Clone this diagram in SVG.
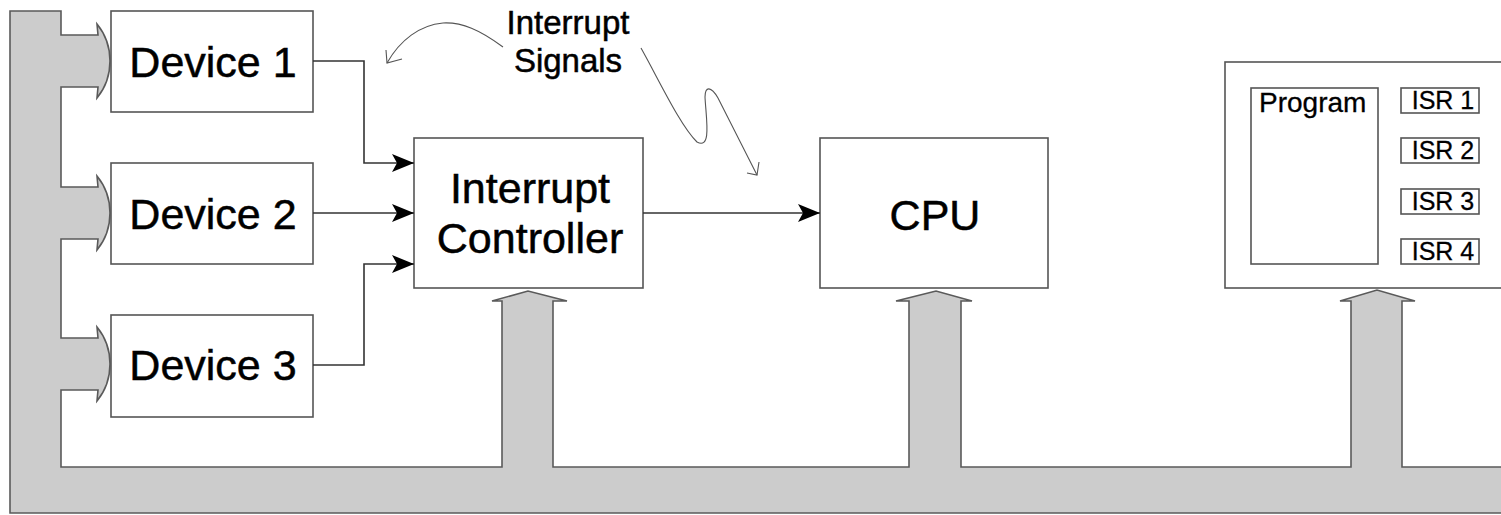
<svg xmlns="http://www.w3.org/2000/svg" width="1501" height="515" viewBox="0 0 1501 515">
  <style>
    .box { fill: #ffffff; stroke: #555555; stroke-width: 1.6; }
    .bus { fill: #cccccc; stroke: #5a5a5a; stroke-width: 1.6; stroke-linejoin: miter; }
    .wire { fill: none; stroke: #333333; stroke-width: 1.6; }
    .note { fill: none; stroke: #555555; stroke-width: 1.1; }
    text { font-family: "Liberation Sans", Arial, sans-serif; fill: #000000; stroke: #000000; stroke-width: 0.5; }
    .big { font-size: 43px; }
    .mid { font-size: 33px; }
    .small { font-size: 28px; stroke-width: 0.3; }
    .tiny { font-size: 25px; stroke-width: 0.3; }
  </style>
  <defs>
    <marker id="head" markerUnits="userSpaceOnUse" markerWidth="24" markerHeight="20" refX="22" refY="9" orient="auto">
      <path d="M0,0 L22,9 L0,18 L5,9 Z" fill="#000000"/>
    </marker>
  </defs>

  <!-- system bus with branch arrows to each block -->
  <g id="bus">
    <path class="bus" d="M1503,513 H10 V11 H61 V35 H98 L97,24 C106,35 110,48 110,61 C110,74 106,87 97,98 L98,87 H61
      V187 H98 L97,176 C106,187 110,200 110,213 C110,226 106,239 97,250 L98,239 H61
      V338 H98 L97,327 C106,338 110,351 110,364 C110,377 106,390 97,401 L98,390 H61
      V467 H502 V301 H492 L528,291 L567,301 H553 V467
      H909 V301 H896 L936,291 L972,301 H961 V467
      H1351 V301 H1340 L1377,290 L1415,301 H1402 V467 H1503"/>
  </g>

  <g id="device1">
    <rect class="box" x="111" y="11" width="202" height="101"/>
    <text class="big" x="213" y="77" text-anchor="middle">Device 1</text>
  </g>
  <g id="device2">
    <rect class="box" x="111" y="163" width="202" height="101"/>
    <text class="big" x="213" y="229" text-anchor="middle">Device 2</text>
  </g>
  <g id="device3">
    <rect class="box" x="111" y="315" width="202" height="102"/>
    <text class="big" x="213" y="380" text-anchor="middle">Device 3</text>
  </g>

  <g id="interrupt-controller">
    <rect class="box" x="414" y="138" width="229" height="150"/>
    <text class="big" x="530" y="203" text-anchor="middle" font-size="44">Interrupt</text>
    <text class="big" x="530" y="253" text-anchor="middle" font-size="44">Controller</text>
  </g>

  <g id="cpu">
    <rect class="box" x="820" y="138" width="228" height="150"/>
    <text class="big" x="935" y="230" text-anchor="middle" font-size="44">CPU</text>
  </g>

  <g id="memory">
    <rect class="box" x="1225" y="62" width="290" height="226"/>
    <rect class="box" x="1251" y="88" width="127" height="176"/>
    <text class="small" x="1259" y="112">Program</text>
    <rect class="box" x="1401" y="88" width="78" height="25"/>
    <text class="tiny" x="1443" y="109" text-anchor="middle">ISR 1</text>
    <rect class="box" x="1401" y="138" width="78" height="25"/>
    <text class="tiny" x="1443" y="159" text-anchor="middle">ISR 2</text>
    <rect class="box" x="1401" y="189" width="78" height="25"/>
    <text class="tiny" x="1443" y="210" text-anchor="middle">ISR 3</text>
    <rect class="box" x="1401" y="239" width="78" height="25"/>
    <text class="tiny" x="1443" y="260" text-anchor="middle">ISR 4</text>
  </g>

  <g id="signals-label">
    <text class="mid" x="568" y="34" text-anchor="middle">Interrupt</text>
    <text class="mid" x="568" y="72" text-anchor="middle">Signals</text>
    <path class="note" d="M503,47 C480,30 462,22 443,23 C420,25 400,40 387,63"/>
    <path class="note" d="M386,50 L387,63 L402,59"/>
    <path class="note" d="M641,48 C660,82 680,125 697,142 C712,150 706,118 705,97 C705,86 711,86 718,98 L757,175"/>
    <path class="note" d="M747,173 L757,175 L759,162"/>
  </g>

  <g id="connectors">
    <polyline class="wire" points="313,61 364,61 364,163 414,163" marker-end="url(#head)"/>
    <polyline class="wire" points="313,213 414,213" marker-end="url(#head)"/>
    <polyline class="wire" points="313,365 364,365 364,264 414,264" marker-end="url(#head)"/>
    <polyline class="wire" points="643,213 820,213" marker-end="url(#head)"/>
  </g>
</svg>
